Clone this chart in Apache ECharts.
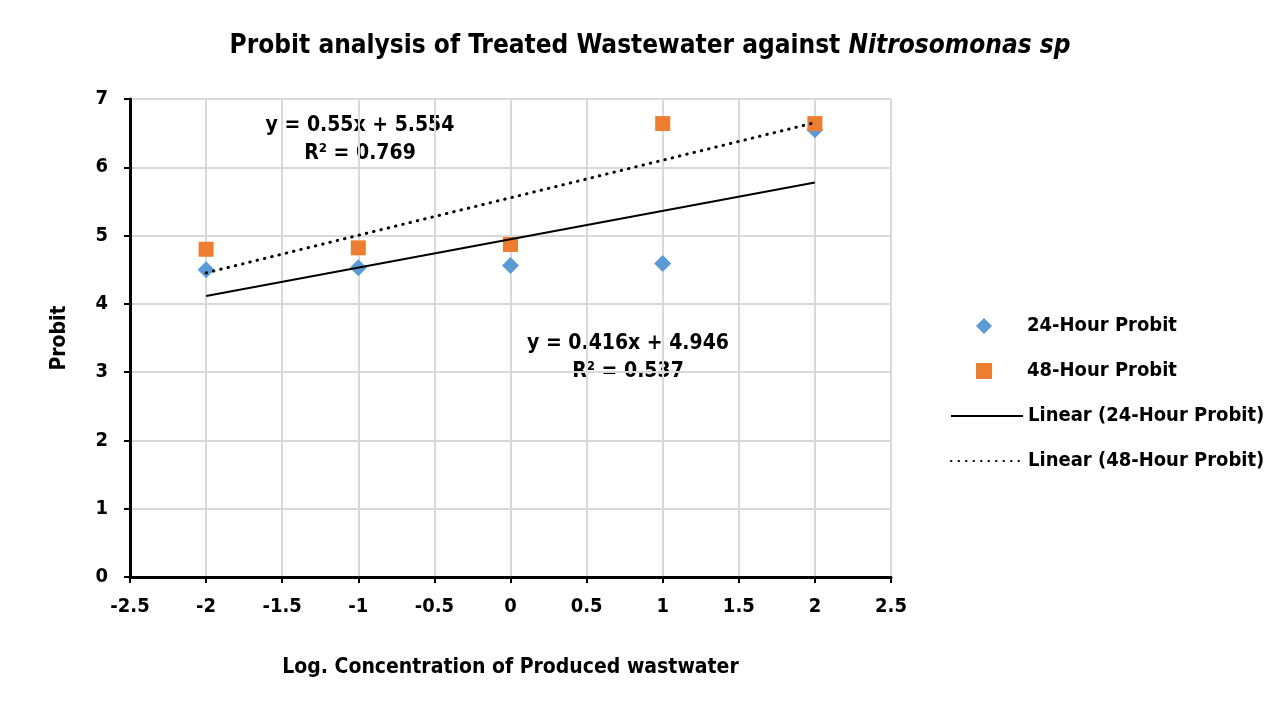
<!DOCTYPE html>
<html>
<head>
<meta charset="utf-8">
<script src="https://cdn.jsdelivr.net/npm/echarts@6/dist/echarts.min.js"></script>
<style>
  html, body { margin: 0; padding: 0; background: #fff; }
  #chart { width: 1281px; height: 710px; }
</style>
</head>
<body>
<div id="chart"></div>
<script>
// x positions (log concentration)
const logConc = [-2, -1, 0, 1, 2];
// probit values
const probit24 = [4.50, 4.53, 4.56, 4.59, 6.55];
const probit48 = [4.80, 4.82, 4.87, 6.64, 6.64];
// fitted trend lines as printed on the chart: [slope, intercept]
const fit24 = [0.416, 4.946];
const fit48 = [0.55, 5.554];
const fitRange = [-2, 2];
const xTicks = [-2.5, -2, -1.5, -1, -0.5, 0, 0.5, 1, 1.5, 2, 2.5];

const font = "'Liberation Sans Narrow', 'DejaVu Sans Condensed', 'Liberation Sans', sans-serif";

const toPts = (xs, ys) => xs.map((x, i) => [x, ys[i]]);
const trend = f => fitRange.map(x => [x, f[0] * x + f[1]]);

const legendText = { fontFamily: font, fontSize: 20, fontWeight: 'bold', color: '#000' };
const eqStyle = { align: 'center', lineHeight: 28, font: 'bold 21px ' + font, fill: '#000' };

const chart = echarts.init(document.getElementById('chart'));
chart.setOption({
    animation: false,
    backgroundColor: '#fff',
    title: {
        text: '{n|Probit analysis of Treated Wastewater against }{i|Nitrosomonas sp}',
        left: 645,
        textAlign: 'center',
        top: 28,
        textStyle: {
            rich: {
                n: { fontFamily: font, fontSize: 26, fontWeight: 'bold', color: '#000' },
                i: { fontFamily: font, fontSize: 26, fontWeight: 'bold', fontStyle: 'italic', color: '#000' }
            }
        }
    },
    grid: { left: 130, right: 390, top: 99, bottom: 133 },
    xAxis: {
        type: 'value',
        min: -2.5,
        max: 2.5,
        interval: 0.5,
        name: 'Log. Concentration of Produced wastwater',
        nameLocation: 'middle',
        nameGap: 80,
        nameTextStyle: { fontFamily: font, fontSize: 21, fontWeight: 'bold', color: '#000' },
        axisLine: { onZero: false, lineStyle: { color: '#000', width: 3 } },
        axisTick: { show: true, length: 6, lineStyle: { color: '#000', width: 2 } },
        axisLabel: {
            fontFamily: font, fontSize: 20, fontWeight: 'bold', color: '#000', margin: 20,
            formatter: v => xTicks.includes(v) ? String(v) : ''
        },
        splitLine: { lineStyle: { color: '#d9d9d9', width: 2 } }
    },
    yAxis: {
        type: 'value',
        min: 0,
        max: 7,
        interval: 1,
        name: 'Probit',
        nameLocation: 'middle',
        nameGap: 60,
        nameTextStyle: { fontFamily: font, fontSize: 21, fontWeight: 'bold', color: '#000' },
        axisLine: { show: true, onZero: false, lineStyle: { color: '#000', width: 3 } },
        axisTick: { show: true, length: 6, lineStyle: { color: '#000', width: 2 } },
        axisLabel: { fontFamily: font, fontSize: 20, fontWeight: 'bold', color: '#000', margin: 22 },
        splitLine: { lineStyle: { color: '#d9d9d9', width: 2 } }
    },
    legend: [
        {
            orient: 'vertical',
            left: 971,
            top: 311,
            itemWidth: 16,
            itemHeight: 16,
            itemGap: 25,
            textStyle: Object.assign({ padding: [0, 0, 0, 30] }, legendText),
            data: ['24-Hour Probit', '48-Hour Probit']
        },
        {
            orient: 'vertical',
            left: 945,
            top: 401,
            itemWidth: 72,
            itemHeight: 16,
            itemGap: 25,
            textStyle: legendText,
            data: [
                { name: 'Linear (24-Hour Probit)', itemStyle: { opacity: 0 } },
                { name: 'Linear (48-Hour Probit)', itemStyle: { opacity: 0 } }
            ]
        }
    ],
    series: [
        {
            name: 'Linear (24-Hour Probit)',
            type: 'line',
            data: trend(fit24),
            symbol: 'none',
            lineStyle: { color: '#000', width: 2 },
            itemStyle: { color: 'rgba(0,0,0,0)' },
            z: 3
        },
        {
            name: '24-Hour Probit',
            type: 'scatter',
            data: toPts(logConc, probit24),
            symbol: 'diamond',
            symbolSize: [17, 17],
            itemStyle: { color: '#5b9bd5', opacity: 1 },
            z: 2
        },
        {
            name: '48-Hour Probit',
            type: 'scatter',
            data: toPts(logConc, probit48),
            symbol: 'rect',
            symbolSize: 15,
            itemStyle: { color: '#ed7d31', opacity: 1 },
            z: 2
        },
        {
            name: 'Linear (48-Hour Probit)',
            type: 'line',
            data: trend(fit48),
            symbol: 'none',
            lineStyle: { color: '#000', width: 3, type: [0.5, 7], cap: 'round' },
            itemStyle: { color: 'rgba(0,0,0,0)' },
            z: 4
        }
    ],
    graphic: [
        { type: 'text', x: 360, y: 112, style: Object.assign({ text: 'y = 0.55x + 5.554\nR² = 0.769' }, eqStyle) },
        { type: 'text', x: 628, y: 330, style: Object.assign({ text: 'y = 0.416x + 4.946\nR² = 0.537' }, eqStyle) }
    ]
});
</script>
</body>
</html>
